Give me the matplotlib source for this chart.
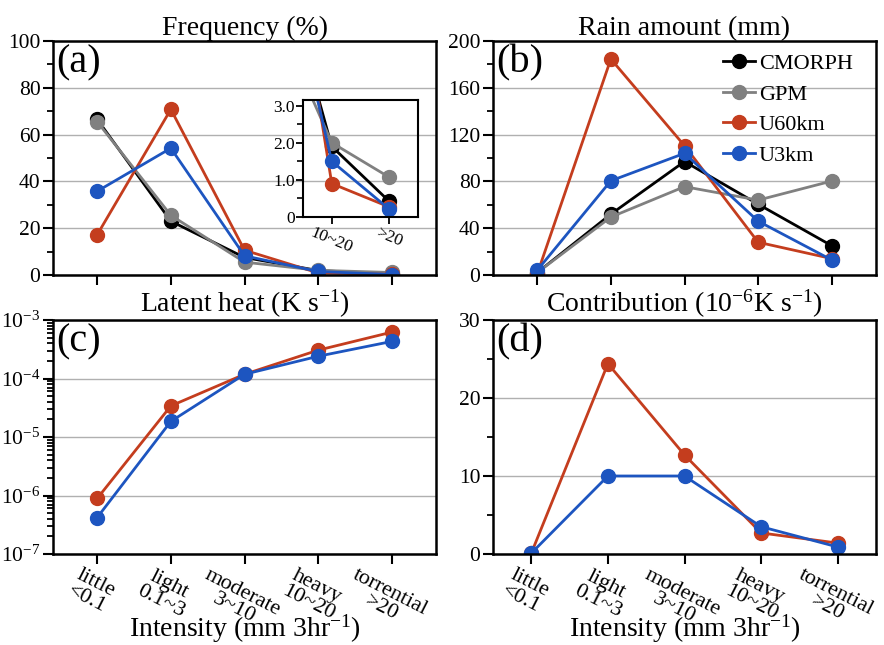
import numpy as np
import matplotlib
matplotlib.use("Agg")
import matplotlib.pyplot as plt
import matplotlib.transforms as mtrans
from matplotlib.ticker import MultipleLocator, LogLocator, NullFormatter, FixedLocator

plt.rcParams['font.family'] = ['Liberation Serif', 'DejaVu Serif']
plt.rcParams['mathtext.fontset'] = 'custom'
plt.rcParams['mathtext.rm'] = 'Liberation Serif'
plt.rcParams['mathtext.it'] = 'Liberation Serif:italic'
plt.rcParams['axes.unicode_minus'] = False

# ---- data -------------------------------------------------------------
categories = ["little\n<0.1", "light\n0.1~3", "moderate\n3~10",
              "heavy\n10~20", "torrential\n>20"]
series = ["CMORPH", "GPM", "U60km", "U3km"]
colors = {"CMORPH": "#000000", "GPM": "#808080",
          "U60km": "#C43D1E", "U3km": "#1D55C0"}

freq_cmorph = [66.5, 23.0, 7.5, 1.9, 0.42]
freq_gpm = [65.5, 25.5, 5.5, 2.0, 1.07]
freq_u60 = [17.2, 70.8, 10.6, 0.9, 0.27]
freq_u3 = [35.8, 54.2, 8.2, 1.5, 0.21]

rain_cmorph = [2.0, 52.0, 97.0, 60.5, 25.0]
rain_gpm = [2.0, 49.5, 75.5, 64.0, 80.3]
rain_u60 = [0.8, 184.6, 110.5, 28.0, 14.0]
rain_u3 = [4.0, 80.5, 104.0, 46.0, 12.8]

heat_u60 = [8.9e-7, 3.4e-5, 1.18e-4, 3.05e-4, 6.2e-4]
heat_u3 = [4.2e-7, 1.85e-5, 1.18e-4, 2.4e-4, 4.3e-4]

contrib_u60 = [0.1, 24.4, 12.7, 2.7, 1.4]
contrib_u3 = [0.1, 10.0, 10.0, 3.5, 0.9]

inset_labels = ["10~20", ">20"]

x = np.arange(len(categories))

# ---- figure layout ----------------------------------------------------
W, H = 884, 645
fig = plt.figure(figsize=(W / 100, H / 100), dpi=100)

def fr(l, t, r, b):
    return [l / W, 1 - b / H, (r - l) / W, (b - t) / H]

ax_a = fig.add_axes(fr(53, 41, 436, 275))
ax_b = fig.add_axes(fr(493, 41, 876, 275))
ax_c = fig.add_axes(fr(53, 320, 436, 554))
ax_d = fig.add_axes(fr(493, 320, 876, 554))

line_kw = dict(lw=2.0, marker='o', markersize=10)
tick_fs = 15.5


def style(ax, letter, title):
    for s in ax.spines.values():
        s.set_linewidth(1.8)
    ax.tick_params(axis='both', which='major', direction='out', length=7,
                   width=1.5, labelsize=tick_fs, pad=2)
    ax.tick_params(axis='both', which='minor', direction='out', length=4,
                   width=1.3)
    ax.yaxis.grid(True, which='major', color='#b0b0b0', lw=1.0)
    ax.set_axisbelow(True)
    ax.text(0.008, 0.985, letter, transform=ax.transAxes, ha='left',
            va='top', fontsize=29)
    ax.set_title(title, fontsize=20, pad=3)


def plot_all(ax, data, xs=x):
    for name, vals in data:
        ax.plot(xs, vals, color=colors[name], label=name, **line_kw)


def category_axis(ax):
    ax.set_xticks(x)
    ax.set_xticklabels(categories, rotation=-27, ha='center', va='top',
                       linespacing=0.95)
    ax.tick_params(axis='x', labelsize=16, pad=1)
    shift = mtrans.ScaledTranslation(-6 / 100, 0, fig.dpi_scale_trans)
    for lab in ax.get_xticklabels():
        lab.set_transform(lab.get_transform() + shift)
    ax.set_xlabel("Intensity (mm 3hr$^{-1}$)", fontsize=20)
    ax.xaxis.set_label_coords(0.5, -0.252)


# (a) frequency
plot_all(ax_a, [("CMORPH", freq_cmorph), ("GPM", freq_gpm),
                ("U60km", freq_u60), ("U3km", freq_u3)])
ax_a.set_xlim(-0.6, 4.6)
ax_a.set_ylim(0, 100)
ax_a.yaxis.set_major_locator(MultipleLocator(20))
ax_a.yaxis.set_minor_locator(MultipleLocator(10))
ax_a.set_xticks(x)
ax_a.set_xticklabels([])
style(ax_a, "(a)", "Frequency (%)")

# inset zoom on the two strongest categories
ax_in = fig.add_axes(fr(303, 100, 418, 217))
ax_in.patch.set_alpha(0)
for name, vals in [("CMORPH", freq_cmorph), ("GPM", freq_gpm),
                   ("U60km", freq_u60), ("U3km", freq_u3)]:
    ax_in.plot(x, vals, color=colors[name], **line_kw)
ax_in.set_xlim(2.5, 4.5)
ax_in.set_ylim(0, 3.15)
ax_in.set_xticks([3, 4])
ax_in.set_xticklabels(inset_labels, rotation=-22, ha='center', va='top')
ax_in.yaxis.set_major_locator(FixedLocator([0, 1, 2, 3]))
ax_in.yaxis.set_minor_locator(MultipleLocator(0.5))
ax_in.set_yticklabels(["0", "1.0", "2.0", "3.0"])
ax_in.tick_params(axis='both', which='major', direction='out', length=5,
                  width=1.3, labelsize=12.5, pad=1)
ax_in.tick_params(axis='y', which='minor', direction='out', length=4,
                  width=1.2)
for s in ax_in.spines.values():
    s.set_linewidth(1.5)

# (b) rain amount
plot_all(ax_b, [("CMORPH", rain_cmorph), ("GPM", rain_gpm),
                ("U60km", rain_u60), ("U3km", rain_u3)])
ax_b.set_xlim(-0.6, 4.6)
ax_b.set_ylim(0, 200)
ax_b.yaxis.set_major_locator(MultipleLocator(40))
ax_b.yaxis.set_minor_locator(MultipleLocator(20))
ax_b.set_xticks(x)
ax_b.set_xticklabels([])
style(ax_b, "(b)", "Rain amount (mm)")
ax_b.legend(loc='upper right', frameon=False, fontsize=16,
            handlelength=1.45, handletextpad=0.15, labelspacing=0.45,
            borderaxespad=0.0, bbox_to_anchor=(0.962, 0.985))

# (c) latent heat
plot_all(ax_c, [("U60km", heat_u60), ("U3km", heat_u3)])
ax_c.set_yscale('log')
ax_c.set_xlim(-0.6, 4.6)
ax_c.set_ylim(1e-7, 1e-3)
ax_c.yaxis.set_major_locator(LogLocator(base=10, numticks=10))
ax_c.yaxis.set_minor_locator(LogLocator(base=10, subs=np.arange(2, 10),
                                        numticks=20))
ax_c.yaxis.set_minor_formatter(NullFormatter())
style(ax_c, "(c)", "Latent heat (K s$^{-1}$)")
category_axis(ax_c)

# (d) contribution
plot_all(ax_d, [("U60km", contrib_u60), ("U3km", contrib_u3)])
ax_d.set_xlim(-0.5, 4.5)
ax_d.set_ylim(0, 30)
ax_d.yaxis.set_major_locator(MultipleLocator(10))
ax_d.yaxis.set_minor_locator(MultipleLocator(5))
style(ax_d, "(d)", "Contribution (10$^{-6}$K s$^{-1}$)")
category_axis(ax_d)

fig.savefig("out.png", dpi=100, facecolor='white')
